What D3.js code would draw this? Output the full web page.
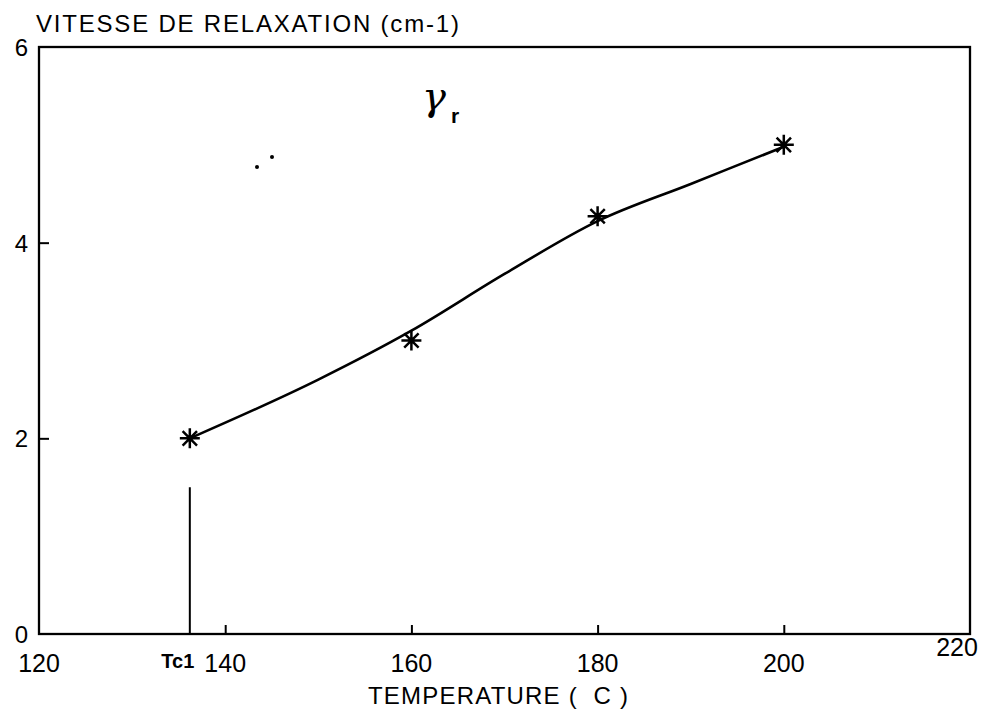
<!DOCTYPE html>
<html>
<head>
<meta charset="utf-8">
<script src="https://cdn.jsdelivr.net/npm/d3@7/dist/d3.min.js"></script>
<style>
  html, body { margin: 0; padding: 0; background: #fff; }
  svg { display: block; }
  text { font-family: "Liberation Sans", Arial, sans-serif; fill: #000; }
</style>
</head>
<body>
<svg id="chart" width="999" height="712"></svg>
<script>
// Measured relaxation rates (cm-1) versus temperature (°C)
const temperatures = [136.2, 160, 180, 200];
const rates = [2.0, 3.0, 4.27, 5.0];

// Hand-drawn trend line through the measurements
const trendTemps = [136.2, 150, 160, 170, 180, 190, 200];
const trendRates = [2.0, 2.6, 3.1, 3.68, 4.22, 4.6, 4.98];

// Critical temperature marker
const tc1Temp = 136.2;
const tc1Height = 1.5;
const tc1Label = "Tc1";

// Axis ticks
const xTickValues = [140, 160, 180, 200];
const xTickLabels = ["120", "140", "160", "180", "200", "220"];
const yTickValues = [2, 4];
const yTickLabels = ["0", "2", "4", "6"];

const svg = d3.select("#chart");
const x = d3.scaleLinear().domain([120, 220]).range([39, 970]);
const y = d3.scaleLinear().domain([0, 6]).range([634, 47]);

// Frame
svg.append("rect")
  .attr("x", x(120)).attr("y", y(6))
  .attr("width", x(220) - x(120)).attr("height", y(0) - y(6))
  .attr("fill", "none").attr("stroke", "#000").attr("stroke-width", 2.3);

// Inward ticks
const xAxis = d3.axisBottom(x).tickValues(xTickValues).tickSize(-9).tickFormat("");
svg.append("g").attr("transform", `translate(0,${y(0)})`).call(xAxis)
  .call(g => g.select(".domain").remove())
  .call(g => g.selectAll("line").attr("stroke-width", 2));
const yAxis = d3.axisLeft(y).tickValues(yTickValues).tickSize(-10).tickFormat("");
svg.append("g").attr("transform", `translate(${x(120)},0)`).call(yAxis)
  .call(g => g.select(".domain").remove())
  .call(g => g.selectAll("line").attr("stroke-width", 2));

// X tick labels
svg.append("g").selectAll("text").data(xTickLabels).join("text")
  .attr("x", d => x(+d) - (d === "220" ? 13 : 0))
  .attr("y", d => d === "220" ? 656 : 672)
  .attr("text-anchor", "middle")
  .attr("font-size", 25)
  .text(d => d);

// Y tick labels
svg.append("g").selectAll("text").data(yTickLabels).join("text")
  .attr("x", 28)
  .attr("y", d => y(+d) + 9)
  .attr("text-anchor", "end")
  .attr("font-size", 24)
  .text(d => d);

// Axis titles
svg.append("text")
  .attr("x", 36).attr("y", 32)
  .attr("font-size", 24).attr("letter-spacing", 1.8)
  .text("VITESSE DE RELAXATION (cm-1)");
svg.append("text")
  .attr("x", 368).attr("y", 704)
  .attr("font-size", 24).attr("letter-spacing", 1.2)
  .attr("xml:space", "preserve")
  .text("TEMPERATURE (  C )");

// Tc1 marker line and label
svg.append("line")
  .attr("x1", x(tc1Temp)).attr("x2", x(tc1Temp))
  .attr("y1", y(tc1Height)).attr("y2", y(0))
  .attr("stroke", "#000").attr("stroke-width", 2);
svg.append("text")
  .attr("x", x(tc1Temp) - 12).attr("y", 668)
  .attr("text-anchor", "middle")
  .attr("font-size", 20).attr("font-weight", "bold")
  .text(tc1Label);

// Trend line
const line = d3.line().curve(d3.curveMonotoneX)
  .x(d => x(d[0])).y(d => y(d[1]));
svg.append("path")
  .datum(d3.zip(trendTemps, trendRates))
  .attr("d", line)
  .attr("fill", "none").attr("stroke", "#000").attr("stroke-width", 2.6);

// Star markers
const r = 10;
const k = r * 0.72;
const star = `M0,${-r}V${r}M${-r},0H${r}M${-k},${-k}L${k},${k}M${-k},${k}L${k},${-k}`;
svg.append("g").selectAll("path").data(d3.zip(temperatures, rates)).join("path")
  .attr("transform", d => `translate(${x(d[0])},${y(d[1])})`)
  .attr("d", star)
  .attr("stroke", "#000").attr("stroke-width", 2.5).attr("fill", "none");

// Series label: gamma sub r
const lbl = svg.append("text").attr("x", 422).attr("y", 110);
lbl.append("tspan")
  .attr("font-family", "DejaVu Serif, serif").attr("font-style", "italic")
  .attr("font-size", 40).text("γ");
lbl.append("tspan")
  .attr("dx", 5).attr("dy", 13)
  .attr("font-size", 21).attr("font-weight", "bold").text("r");

// Stray pen marks
svg.append("g").selectAll("circle").data([[257, 167], [272, 157]]).join("circle")
  .attr("cx", d => d[0]).attr("cy", d => d[1]).attr("r", 2).attr("fill", "#000");
</script>
</body>
</html>
